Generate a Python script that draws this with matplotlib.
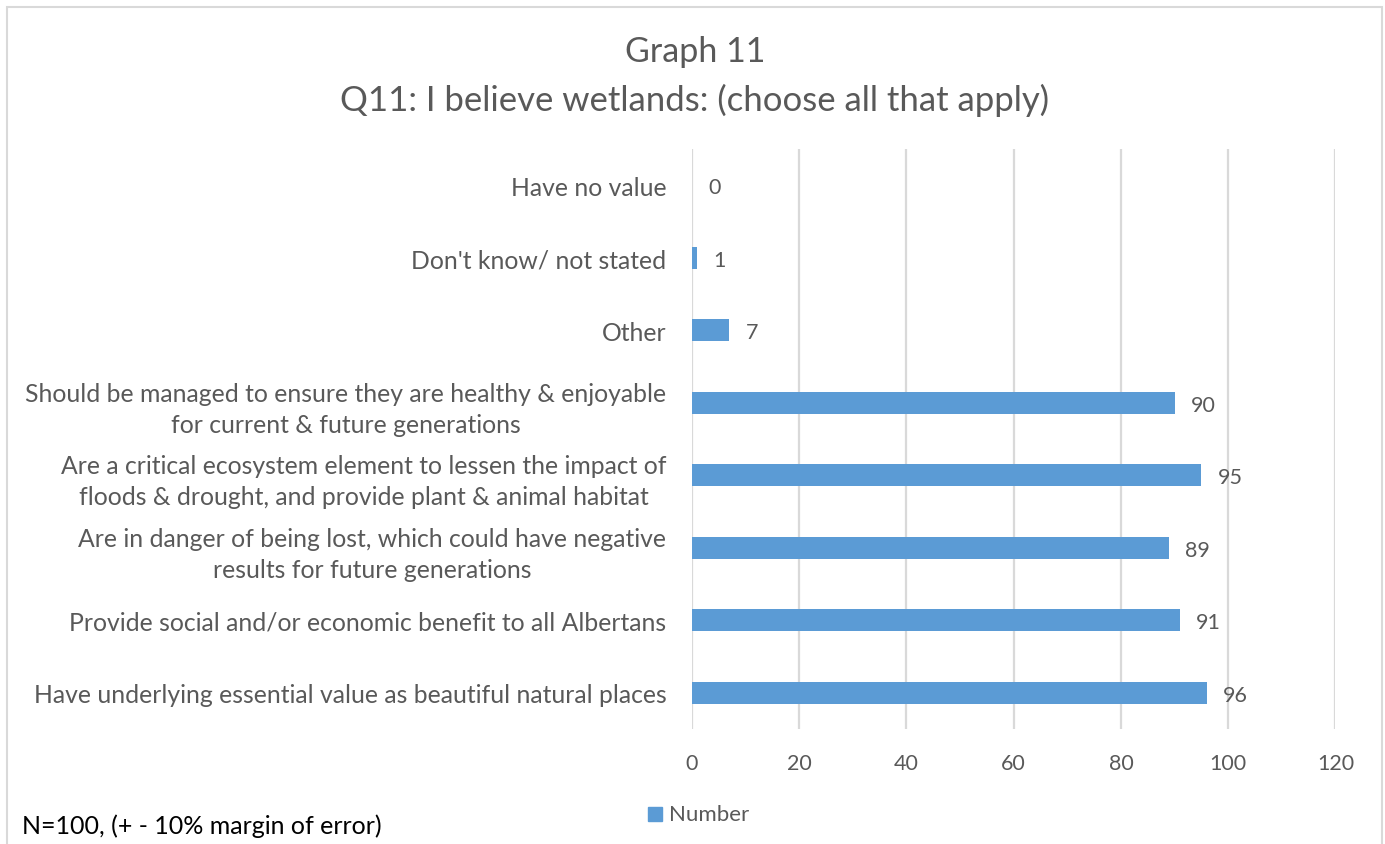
import matplotlib
matplotlib.use("Agg")
import matplotlib.pyplot as plt
from matplotlib.patches import Rectangle

# survey answers, top to bottom
answers = [
    "Have no value",
    "Don't know/ not stated",
    "Other",
    "Should be managed to ensure they are healthy & enjoyable\nfor current & future generations",
    "Are a critical ecosystem element to lessen the impact of\nfloods & drought, and provide plant & animal habitat",
    "Are in danger of being lost, which could have negative\nresults for future generations",
    "Provide social and/or economic benefit to all Albertans",
    "Have underlying essential value as beautiful natural places",
]
counts = [0, 1, 7, 90, 95, 89, 91, 96]
x_ticks = [0, 20, 40, 60, 80, 100, 120]

BLUE = "#5B9BD5"
GREY = "#595959"
GRID = "#d9d9d9"

plt.rcParams['font.family'] = ['Lato', 'DejaVu Sans']

fig = plt.figure(figsize=(13.85, 8.45), dpi=100)
ax = fig.add_axes([0.4996, 0.136, 0.4646, 0.6865])

ypos = list(range(len(answers)))
ax.barh(ypos, counts, height=0.3, color=BLUE, zorder=3)
for y, v in zip(ypos, counts):
    ax.text(v + 3.0, y + 0.03, str(v), va="center", ha="left",
            fontsize=15.5, color=GREY, zorder=4)

ax.set_xlim(0, 120)
ax.set_ylim(len(answers) - 0.5, -0.5)
ax.set_xticks(x_ticks)
ax.set_yticks(ypos)
ax.set_yticklabels(answers, ha="right", ma="center", linespacing=1.42)
ax.tick_params(axis="x", length=0, pad=17, labelsize=15.5, labelcolor=GREY)
ax.tick_params(axis="y", length=0, pad=18.5, labelsize=17.8, labelcolor=GREY)
ax.grid(axis="x", color=GRID, linewidth=1.6, zorder=0)
for s in ax.spines.values():
    s.set_visible(False)

fig.text(0.5017, 0.938, "Graph 11", ha="center", va="center",
         fontsize=24.5, color=GREY)
fig.text(0.5017, 0.881, "Q11: I believe wetlands: (choose all that apply)",
         ha="center", va="center", fontsize=25, color=GREY)

# legend and footnote
fig.patches.append(Rectangle((648 / 1385, 1 - 822 / 845), 14 / 1385, 14 / 845,
                             transform=fig.transFigure, color=BLUE))
fig.text(669 / 1385, 1 - 815 / 845, "Number", ha="left", va="center",
         fontsize=16, color=GREY)
fig.text(22 / 1385, 1 - 826 / 845, "N=100, (+ - 10% margin of error)",
         ha="left", va="center", fontsize=18, color="black")

# chart border
fig.patches.append(Rectangle((7 / 1385, -0.01), 1375 / 1385, 1 - 8 / 845 + 0.01,
                             transform=fig.transFigure, fill=False,
                             edgecolor=GRID, linewidth=1.5))

fig.savefig("out.png", dpi=100, facecolor="white")
